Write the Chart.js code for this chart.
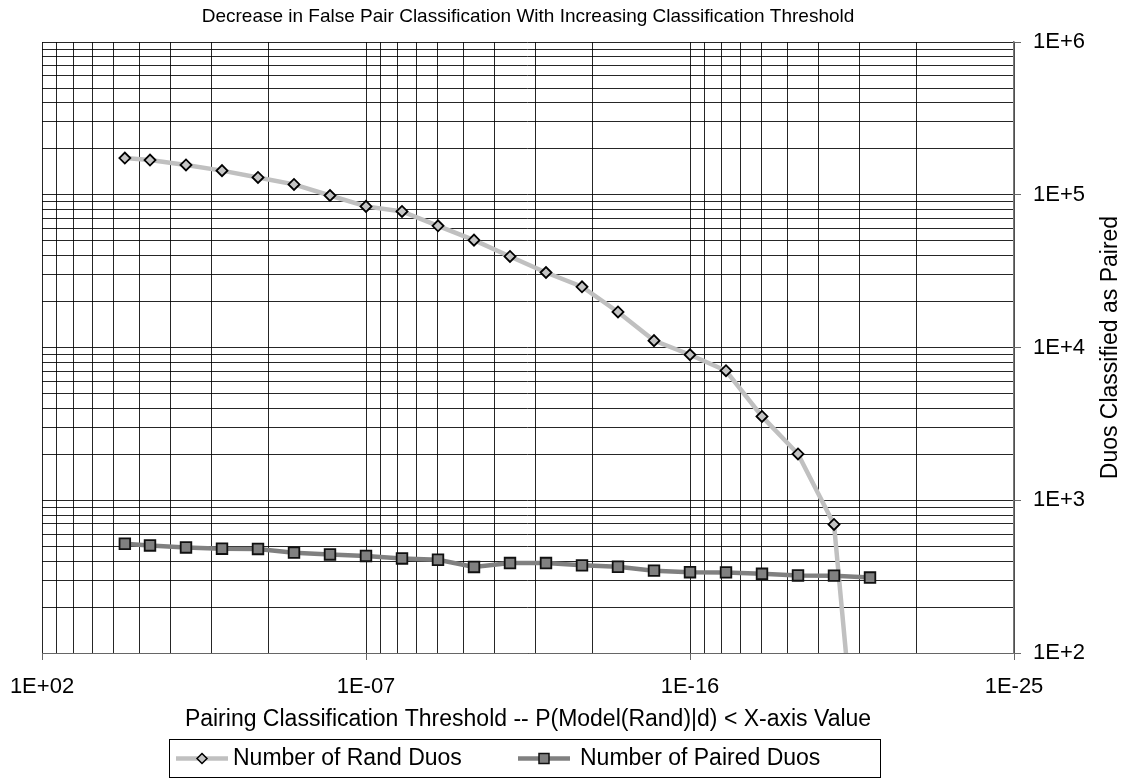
<!DOCTYPE html>
<html>
<head>
<meta charset="utf-8">
<script src="https://cdn.jsdelivr.net/npm/chart.js@4.4.1/dist/chart.umd.min.js"></script>
<style>
  body { margin: 0; background: #fff; }
  #wrap { width: 1123px; height: 780px; }
</style>
</head>
<body>
<div id="wrap"><canvas id="chart" width="1123" height="780"></canvas></div>
<script>
// thresholds P(Model(Rand)|d) used on the x axis
const thresholds = [5e-1, 1e-1, 1e-2, 1e-3, 1e-4, 1e-5, 1e-6, 1e-7, 1e-8, 1e-9, 1e-10,
  1e-11, 1e-12, 1e-13, 1e-14, 1e-15, 1e-16, 1e-17, 1e-18, 1e-19, 1e-20, 1e-21];

const randDuos = [174000, 169000, 157000, 144000, 130000, 117000, 99000, 84000, 77800, 62700,
  50500, 39500, 31000, 25000, 17100, 11100, 8970, 7050, 3540, 2010, 695, 2];

const pairedDuos = [519, 506, 491, 482, 480, 454, 442, 432, 416, 408, 366,
  388, 388, 375, 367, 346, 338, 337, 330, 322, 321, 312];

const xMajorTicks = [1e2, 1e-7, 1e-16, 1e-25];
const yMajorTicks = [1e2, 1e3, 1e4, 1e5, 1e6];

const chartTitle = "Decrease in False Pair Classification With Increasing Classification Threshold";
const xTitle = "Pairing Classification Threshold -- P(Model(Rand)|d) < X-axis Value";
const yTitle = "Duos Classified as Paired";
const seriesNames = ["Number of Rand Duos", "Number of Paired Duos"];

const FONT = '"Liberation Sans", Arial, sans-serif';

function isMajor(v, majors) {
  return majors.some(m => Math.abs(Math.log10(v) - Math.log10(m)) < 1e-6);
}

function expLabel(v, digits) {
  const e = Math.round(Math.log10(v));
  let n = String(Math.abs(e));
  while (n.length < digits) n = "0" + n;
  return "1E" + (e < 0 ? "-" : "+") + n;
}

// excel style log gridlines: minor lines inside each major step
const xGrid = [];
xMajorTicks.forEach((m, i) => {
  xGrid.push(m);
  if (i > 0) for (let k = 2; k <= 9; k++) xGrid.push(m * Math.pow(k, 9));
});
const yGrid = [];
yMajorTicks.forEach((m, i) => {
  yGrid.push(m);
  if (i < yMajorTicks.length - 1) for (let k = 2; k <= 9; k++) yGrid.push(m * k);
});

const extraText = {
  id: "extraText",
  afterDraw(chart) {
    const ctx = chart.ctx;
    const area = chart.chartArea;
    const sets = chart.data.datasets;

    // y title, reads bottom to top
    ctx.save();
    ctx.font = "23px " + FONT;
    ctx.fillStyle = "#000";
    ctx.textAlign = "center";
    ctx.textBaseline = "middle";
    ctx.translate(1111, (area.top + area.bottom) / 2);
    ctx.rotate(-Math.PI / 2);
    ctx.fillText(yTitle, 0, 0);
    ctx.restore();

    // legend box
    ctx.save();
    ctx.strokeStyle = "#000";
    ctx.lineWidth = 1;
    ctx.strokeRect(169.5, 739.5, 711, 38);
    const cy = 758.5;
    const slots = [{ x0: 176, x1: 228, text: 233 }, { x0: 518, x1: 570, text: 580 }];
    sets.forEach((ds, i) => {
      const s = slots[i];
      ctx.strokeStyle = ds.borderColor;
      ctx.lineWidth = ds.borderWidth;
      ctx.beginPath();
      ctx.moveTo(s.x0, cy);
      ctx.lineTo(s.x1, cy);
      ctx.stroke();
      const mx = (s.x0 + s.x1) / 2;
      ctx.fillStyle = ds.pointBackgroundColor;
      ctx.strokeStyle = ds.pointBorderColor;
      ctx.lineWidth = 1.5;
      ctx.beginPath();
      if (ds.pointStyle === "rectRot") {
        ctx.moveTo(mx, cy - 5);
        ctx.lineTo(mx + 5, cy);
        ctx.lineTo(mx, cy + 5);
        ctx.lineTo(mx - 5, cy);
        ctx.closePath();
      } else {
        ctx.rect(mx - 5, cy - 5, 10, 10);
      }
      ctx.fill();
      ctx.stroke();
      ctx.fillStyle = "#000";
      ctx.font = "23px " + FONT;
      ctx.textAlign = "left";
      ctx.textBaseline = "middle";
      ctx.fillText(ds.label, s.text, cy);
    });
    ctx.restore();
  }
};

new Chart(document.getElementById("chart"), {
  type: "line",
  data: {
    datasets: [
      {
        label: seriesNames[0],
        data: thresholds.map((t, i) => ({ x: t, y: randDuos[i] })),
        borderColor: "#c0c0c0",
        borderWidth: 4.5,
        pointStyle: "rectRot",
        pointRadius: 5.5,
        pointBackgroundColor: "#c4c4c4",
        pointBorderColor: "#000",
        pointBorderWidth: 1.8,
        tension: 0,
        order: 1
      },
      {
        label: seriesNames[1],
        data: thresholds.map((t, i) => ({ x: t, y: pairedDuos[i] })),
        borderColor: "#808080",
        borderWidth: 4.5,
        pointStyle: "rect",
        pointRadius: 7.5,
        pointBackgroundColor: "#808080",
        pointBorderColor: "#111",
        pointBorderWidth: 1.8,
        tension: 0,
        order: 0
      }
    ]
  },
  options: {
    responsive: false,
    animation: false,
    layout: { padding: { left: 42, right: 0, top: 0, bottom: 0 } },
    plugins: {
      legend: { display: false },
      tooltip: { enabled: false },
      title: {
        display: true,
        text: chartTitle,
        fullSize: false,
        color: "#000",
        font: { family: FONT, size: 19, weight: "normal" },
        padding: { top: 5, bottom: 14.3 }
      }
    },
    scales: {
      x: {
        type: "logarithmic",
        reverse: true,
        min: 1e-25,
        max: 1e2,
        afterBuildTicks: s => { s.ticks = xGrid.map(v => ({ value: v })); },
        afterFit: s => { s.height = 127; s.paddingLeft = 0; s.paddingRight = 0; },
        grid: {
          color: "rgba(0,0,0,0.85)",
          lineWidth: 1,
          tickLength: 7,
          tickColor: c => (c.tick && isMajor(c.tick.value, xMajorTicks) ? "#666" : "rgba(0,0,0,0)")
        },
        border: { color: "#666", width: 1 },
        ticks: {
          autoSkip: false,
          maxRotation: 0,
          minRotation: 0,
          padding: 14,
          color: "#000",
          font: { family: FONT, size: 22 },
          callback: v => (isMajor(v, xMajorTicks) ? expLabel(v, 2) : "")
        },
        title: {
          display: true,
          text: xTitle,
          color: "#000",
          font: { family: FONT, size: 23 },
          padding: { top: 0, bottom: 47 }
        }
      },
      y: {
        type: "logarithmic",
        position: "right",
        min: 1e2,
        max: 1e6,
        afterBuildTicks: s => { s.ticks = yGrid.map(v => ({ value: v })); },
        afterFit: s => { s.width = 109; },
        grid: {
          color: "rgba(0,0,0,0.85)",
          lineWidth: 1,
          tickLength: 7,
          tickColor: c => (c.tick && isMajor(c.tick.value, yMajorTicks) ? "#666" : "rgba(0,0,0,0)")
        },
        border: { color: "#777", width: 1.5 },
        ticks: {
          autoSkip: false,
          padding: 12,
          color: "#000",
          font: { family: FONT, size: 22 },
          callback: v => (isMajor(v, yMajorTicks) ? expLabel(v, 1) : "")
        }
      }
    }
  },
  plugins: [extraText]
});
</script>
</body>
</html>
